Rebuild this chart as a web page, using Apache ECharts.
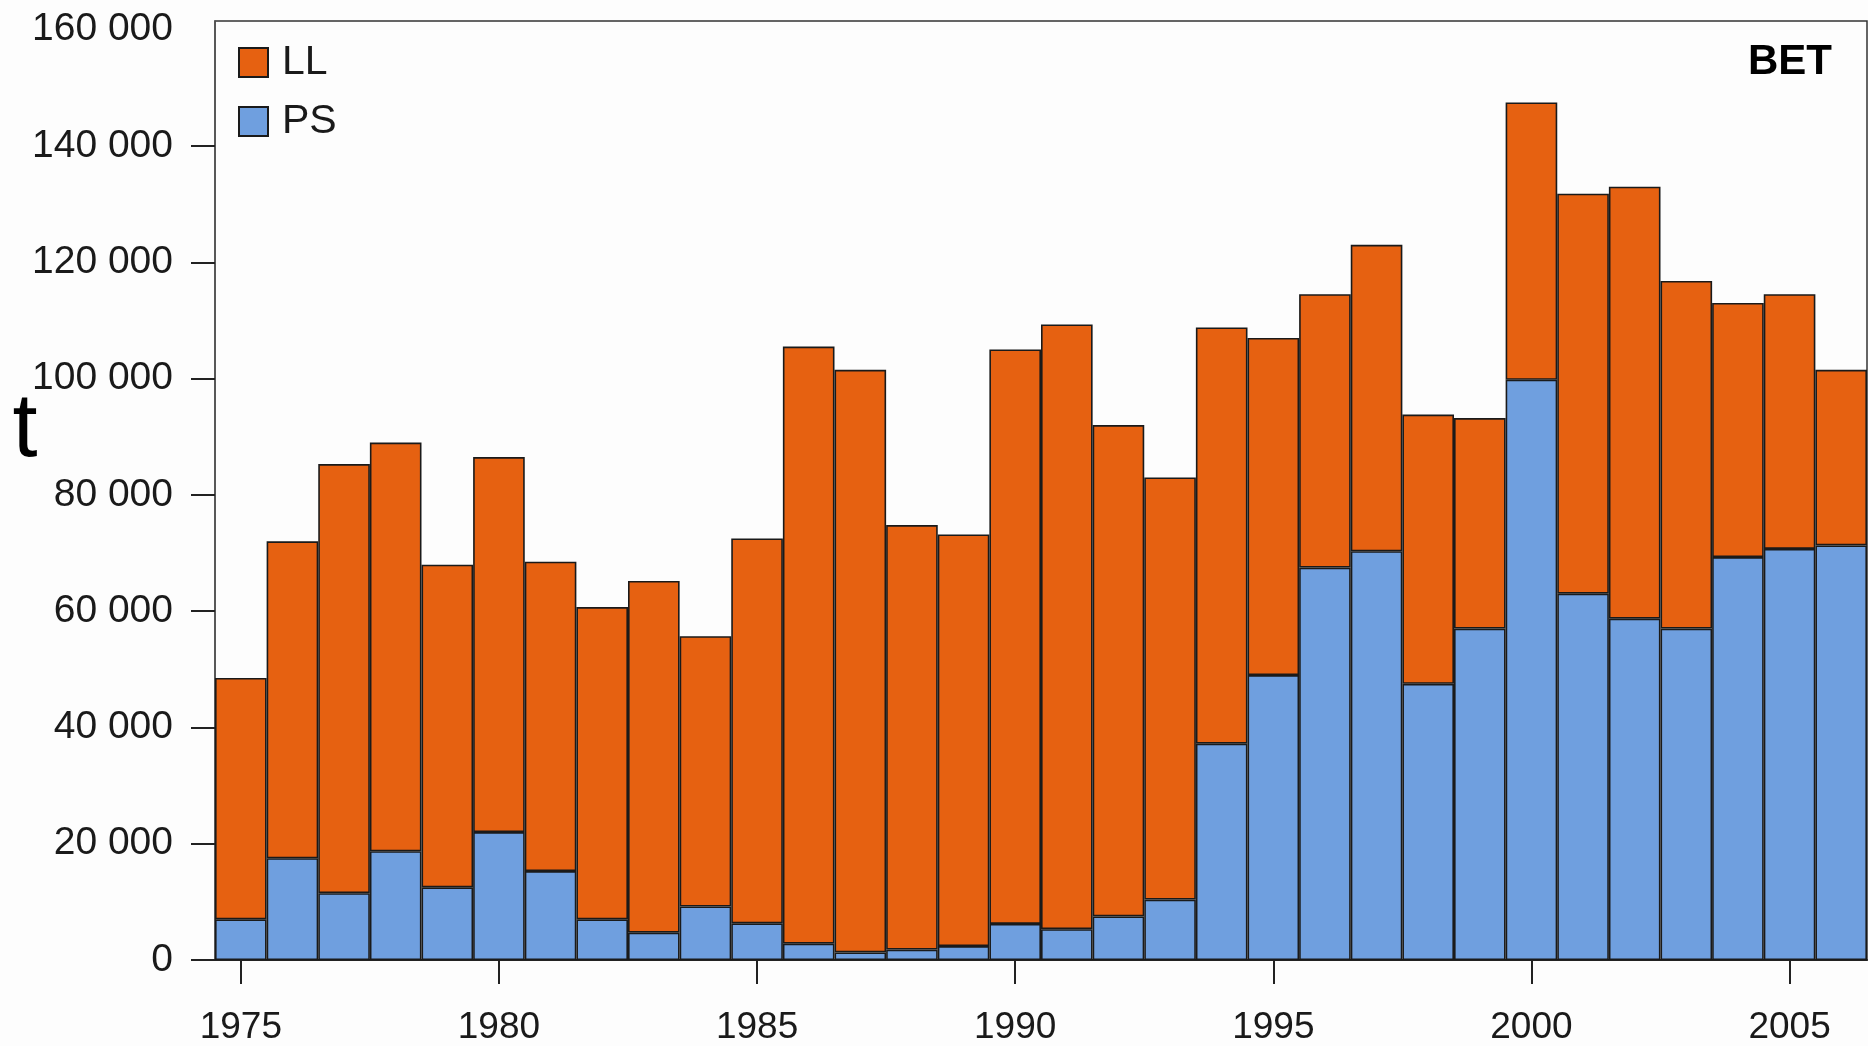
<!DOCTYPE html>
<html>
<head>
<meta charset="utf-8">
<script src="https://cdn.jsdelivr.net/npm/echarts@6/dist/echarts.min.js"></script>
<style>
html,body{margin:0;padding:0;background:#fdfdfd;}
#chart{width:1868px;height:1046px;}
</style>
</head>
<body>
<div id="chart"></div>
<script>
const years = ['1975','1976','1977','1978','1979','1980','1981','1982','1983','1984','1985','1986','1987','1988','1989','1990','1991','1992','1993','1994','1995','1996','1997','1998','1999','2000','2001','2002','2003','2004','2005','2006'];
const totals = [48500,72000,85300,89000,68000,86500,68500,60700,65200,55700,72500,105500,101500,74800,73200,105000,109300,92000,83000,108800,107000,114500,123000,93800,93200,147500,131800,133000,116800,113000,114500,101500];
const psValues = [7000,17500,11500,18700,12500,22000,15300,7000,4700,9200,6300,2800,1300,1800,2400,6200,5300,7500,10400,37200,49000,67500,70300,47500,57000,99800,63000,58700,57000,69300,70700,71300];
const llValues = totals.map((t, i) => t - psValues[i]);
const yLabelValues = [0,20000,40000,60000,80000,100000,120000,140000,160000];
const yTickValues = [0,20000,40000,60000,80000,100000,120000,140000];
const yMax = 161500;
const seriesNames = ['LL', 'PS'];
const axisUnit = 't';
const panelLabel = 'BET';

const chart = echarts.init(document.getElementById('chart'));
const font = '"Liberation Sans", Arial, Helvetica, sans-serif';
chart.setOption({
  backgroundColor: '#fdfdfd',
  animation: false,
  textStyle: { fontFamily: font },
  grid: {
    left: 215, right: 1, top: 21, bottom: 86,
    show: true, borderColor: '#333', borderWidth: 1.5, backgroundColor: 'transparent'
  },
  legend: {
    data: seriesNames,
    orient: 'vertical',
    left: 233, top: 37,
    itemWidth: 29, itemHeight: 29, itemGap: 18,
    icon: 'rect',
    textStyle: { fontSize: 41, color: '#1a1a1a', fontFamily: font, padding: [0, 0, 0, 9] }
  },
  xAxis: {
    type: 'category',
    data: years,
    boundaryGap: true,
    axisLine: { lineStyle: { color: '#222', width: 2 } },
    axisTick: { show: true, interval: 4, alignWithLabel: true, length: 24, lineStyle: { color: '#222', width: 2 } },
    axisLabel: { interval: 4, fontSize: 37, color: '#1a1a1a', margin: 49, fontFamily: font },
    splitLine: { show: false }
  },
  yAxis: {
    type: 'value',
    min: 0, max: yMax, interval: 20000,
    axisLine: { show: true, lineStyle: { color: '#555', width: 1.5 } },
    axisTick: { show: true, length: 24, customValues: yTickValues, lineStyle: { color: '#222', width: 2 } },
    axisLabel: {
      fontSize: 39, color: '#1a1a1a', margin: 42, fontFamily: font,
      customValues: yLabelValues,
      formatter: function (v) {
        return v === 0 ? '0' : String(v / 1000) + ' 000';
      }
    },
    splitLine: { show: false }
  },
  series: [
    {
      name: 'PS', type: 'bar', stack: 'total', data: psValues,
      barCategoryGap: 0, barGap: 0,
      itemStyle: { color: '#6f9fdf', borderColor: '#1a1a1a', borderWidth: 1.6 }
    },
    {
      name: 'LL', type: 'bar', stack: 'total', data: llValues,
      barCategoryGap: 0, barGap: 0,
      itemStyle: { color: '#e66111', borderColor: '#1a1a1a', borderWidth: 1.6 }
    }
  ],
  graphic: [
    { type: 'text', x: 25, y: 431, style: { text: axisUnit, fontSize: 90, fill: '#000', fontFamily: font, align: 'center', verticalAlign: 'middle' } },
    { type: 'text', x: 1790, y: 62, style: { text: panelLabel, fontSize: 42, fontWeight: 'bold', fill: '#000', fontFamily: font, align: 'center', verticalAlign: 'middle' } }
  ]
});
</script>
</body>
</html>
